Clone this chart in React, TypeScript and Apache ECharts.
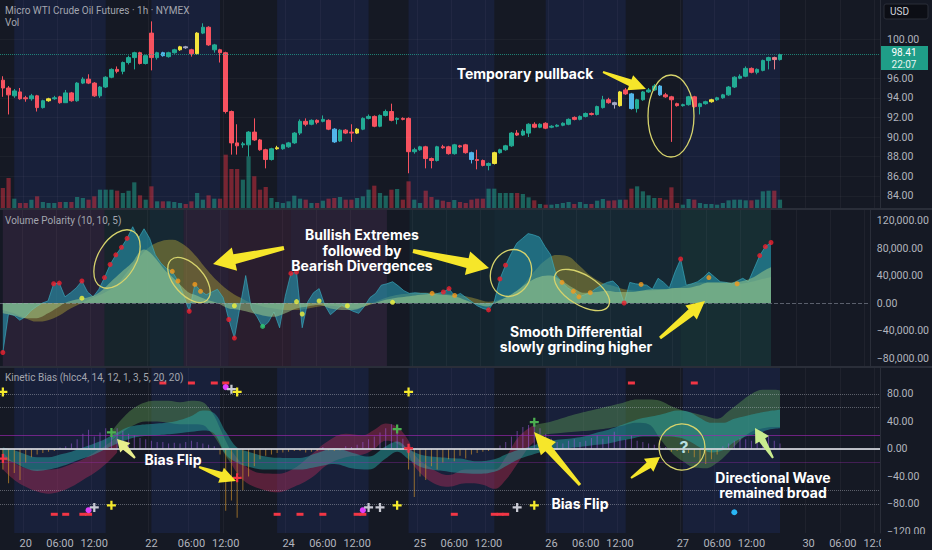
import React, { useEffect, useRef } from "react";
import * as echarts from "echarts";

// ---------- time axis ----------
const sessions: [string, number, number][] = [
  ["19", 19, 22], ["20", 0, 21], ["22", 23, 23], ["23", 0, 22], ["24", 0, 22],
  ["25", 0, 22], ["26", 0, 22], ["27", 0, 20], ["29", 23, 23], ["30", 0, 12],
];
const shownDays = ["20", "22", "24", "25", "26", "27", "30"];
const shownHours = ["06:00", "12:00"];

// ---------- price (open, close, low, high) ----------
const ohlc: number[][] = [
  [95.8, 95.0, 94.1, 96.2], [95.0, 94.3, 92.3, 95.2], [94.2, 94.7, 94.0, 94.9], [94.6, 93.9, 93.8, 95.0],
  [94.0, 93.9, 93.6, 94.2], [93.9, 94.2, 93.7, 94.4], [94.2, 93.0, 92.6, 94.3], [93.0, 93.7, 92.9, 93.8],
  [93.7, 93.9, 93.6, 94.0], [93.9, 94.0, 93.8, 94.2], [94.1, 93.5, 93.4, 94.2], [93.5, 94.5, 93.5, 94.8],
  [94.5, 93.7, 93.6, 94.6], [93.7, 95.5, 93.6, 95.6], [95.5, 95.9, 95.4, 96.1], [95.9, 95.5, 95.4, 96.4],
  [95.5, 94.2, 94.1, 95.6], [94.2, 95.1, 94.0, 95.2], [95.1, 96.1, 95.0, 96.2], [96.1, 96.9, 96.0, 97.0],
  [96.9, 96.7, 96.5, 97.2], [96.7, 97.6, 96.4, 97.7], [97.6, 98.1, 97.4, 98.3], [98.1, 98.6, 96.9, 98.7],
  [98.6, 97.5, 97.4, 98.7], [97.5, 98.3, 97.4, 98.4], [100.6, 98.1, 96.8, 101.8], [98.1, 98.6, 97.9, 98.7],
  [98.6, 98.3, 98.2, 98.7], [98.2, 98.6, 98.1, 98.7], [98.6, 98.9, 98.5, 99.0], [98.9, 99.2, 98.8, 99.3],
  [99.2, 99.1, 99.0, 99.3], [98.9, 98.5, 98.2, 99.0], [98.5, 100.6, 98.4, 100.7], [100.6, 101.2, 100.5, 101.6],
  [101.2, 99.4, 99.3, 101.3], [98.9, 99.4, 98.6, 99.5], [98.9, 98.6, 97.6, 99.0], [98.6, 92.6, 92.4, 98.7],
  [92.6, 89.4, 88.2, 92.7], [89.4, 89.1, 88.2, 91.3], [89.2, 89.3, 88.9, 89.5], [89.2, 90.5, 88.0, 90.6],
  [90.5, 89.7, 89.6, 91.9], [89.7, 88.7, 88.6, 89.8], [88.7, 87.7, 86.8, 88.8], [87.7, 88.8, 87.6, 88.9],
  [88.8, 88.9, 88.7, 89.1], [88.8, 89.2, 88.7, 89.3], [89.0, 89.4, 88.9, 89.5], [89.4, 90.4, 89.3, 90.5],
  [90.4, 91.6, 90.2, 91.8], [91.6, 91.3, 91.1, 91.9], [91.3, 91.7, 91.2, 91.8], [91.7, 91.5, 91.3, 91.8],
  [91.6, 91.8, 91.5, 92.2], [91.7, 90.8, 90.7, 91.8], [90.8, 89.5, 89.4, 90.9], [89.6, 90.7, 89.5, 90.8],
  [90.7, 90.4, 90.3, 90.8], [90.5, 90.4, 89.5, 91.3], [90.4, 90.8, 90.3, 90.9], [90.8, 91.9, 90.7, 92.0],
  [91.9, 92.1, 91.8, 92.3], [92.1, 91.1, 91.0, 92.2], [91.1, 92.2, 91.0, 92.3], [92.2, 92.6, 92.1, 92.8],
  [92.6, 91.7, 91.6, 93.4], [91.8, 91.9, 91.3, 92.0], [91.9, 91.8, 91.7, 92.0], [91.9, 88.5, 86.3, 92.0],
  [88.5, 88.7, 88.3, 88.9], [88.7, 89.0, 88.6, 89.1], [89.0, 87.8, 86.8, 89.1], [87.8, 87.6, 86.8, 87.9],
  [87.6, 89.0, 87.5, 89.1], [89.0, 88.9, 88.8, 89.2], [89.0, 88.3, 88.2, 89.1], [88.3, 89.2, 88.2, 89.3],
  [89.1, 89.0, 88.9, 89.2], [89.2, 88.4, 88.3, 89.3], [88.4, 87.7, 87.3, 88.5], [87.7, 87.6, 86.7, 88.7],
  [87.6, 87.1, 87.0, 87.7], [87.1, 87.3, 86.6, 87.4], [87.3, 88.4, 87.2, 88.5], [88.4, 88.7, 88.3, 88.8],
  [88.7, 89.1, 88.6, 89.2], [89.1, 90.4, 89.0, 90.5], [90.4, 90.2, 90.1, 90.7], [90.2, 90.6, 90.1, 90.8],
  [90.4, 91.3, 90.0, 91.4], [91.3, 91.0, 90.9, 91.5], [91.0, 91.3, 90.9, 91.4], [91.4, 90.9, 90.8, 91.5],
  [91.0, 91.1, 90.9, 91.2], [91.1, 91.2, 91.0, 91.3], [91.2, 91.4, 91.1, 91.5], [91.3, 91.8, 91.2, 91.9],
  [92.0, 91.8, 91.7, 92.1], [91.8, 92.1, 91.7, 92.2], [92.1, 92.4, 92.0, 92.5], [92.4, 92.3, 92.2, 92.5],
  [92.3, 93.1, 92.2, 93.2], [93.0, 93.8, 92.9, 94.2], [93.8, 93.5, 93.4, 94.0], [93.5, 93.3, 92.9, 93.6],
  [93.2, 94.6, 93.1, 94.7], [94.8, 94.4, 94.3, 95.0], [94.4, 92.9, 92.8, 94.5], [92.9, 93.8, 92.5, 93.9],
  [93.8, 94.6, 93.7, 94.7], [94.6, 94.8, 94.5, 95.0], [94.8, 95.2, 94.7, 95.4], [95.2, 94.3, 94.2, 95.3],
  [94.3, 94.1, 94.0, 94.5], [94.1, 93.8, 89.5, 94.2], [93.4, 93.2, 93.1, 93.5], [93.2, 93.3, 93.1, 93.4],
  [93.3, 94.1, 93.2, 94.2], [94.1, 93.1, 93.0, 94.2], [93.1, 93.4, 92.3, 93.5], [93.4, 93.6, 93.3, 93.7],
  [93.6, 93.8, 93.5, 93.9], [93.8, 94.0, 93.7, 94.1], [94.0, 94.3, 93.9, 94.4], [94.3, 95.1, 94.2, 95.2],
  [95.1, 96.1, 95.0, 96.2], [96.0, 96.2, 95.9, 96.4], [96.2, 97.0, 96.1, 97.2], [97.0, 96.6, 96.5, 97.1],
  [96.6, 96.9, 96.4, 97.0], [96.8, 97.8, 96.7, 97.9], [97.8, 98.1, 96.9, 98.2], [98.1, 97.9, 96.9, 98.2],
  [97.9, 98.41, 97.8, 98.5],
];
const yellowBars = [8, 31, 34, 48, 62, 86, 108, 124];
const blueBars = [28, 58, 82, 110, 115];
const greyBars = [32, 107];
const pinkBars = [135];
const lastPrice = 98.41;

const volumes = [
  6000, 9000, 2800, 1500, 1500, 2500, 3500, 1800, 1500, 1500, 1800, 1800, 1800, 3300, 3000, 2500, 3500, 5500, 5500, 5500,
  5200, 4500, 5200, 7700, 3800, 2500, 6500, 2000, 2000, 2000, 1800, 1500, 1200, 2000, 4500, 2500, 3800, 2800, 2800, 16000,
  11700, 11700, 8500, 15500, 9500, 5500, 6300, 3000, 1800, 1500, 2000, 3700, 2800, 2500, 1500, 1500, 2200, 2800, 3000, 3300,
  2500, 2500, 3000, 3500, 5500, 6700, 4500, 3700, 5500, 5700, 2500, 8000, 2500, 1500, 5200, 3300, 2500, 2200, 1800, 2400,
  1800, 1500, 2500, 2800, 2800, 5800, 5800, 4500, 4500, 4500, 4500, 4200, 3200, 2300, 1200, 1000, 1000, 1200, 1500, 1800,
  1200, 1800, 1200, 1200, 2200, 2700, 2200, 2300, 2500, 2500, 5800, 6500, 5000, 3800, 3000, 3000, 2500, 6200, 1500, 1000,
  2700, 2500, 1500, 1200, 1200, 1000, 1500, 2300, 2500, 2500, 2300, 2300, 2500, 5000, 5200, 5200, 2500,
];

// ---------- Volume Polarity (thousands) ----------
const polarityRaw = [
  [0, -72], [1, -16], [2, -18], [3, -25], [4, -20], [5, -11], [6, -5], [7, 0], [8, 3], [9, 28], [10, 29], [11, 9],
  [12, 15], [13, 22], [14, 32], [15, 16], [16, 9], [17, 20], [18, 37], [19, 56], [20, 70], [21, 81], [22, 94], [23, 111],
  [24, 94], [25, 108], [26, 94], [27, 70], [28, 58], [29, 50], [30, 46], [31, 32], [32, 12], [33, -12], [34, 27], [35, 18],
  [36, 12], [37, 16], [38, 20], [39, 8], [40, -24], [41, -51], [42, -5], [43, 40], [44, -8], [45, -20], [46, -35], [47, -28],
  [48, -13], [49, -36], [50, 10], [51, 43], [52, 45], [53, -36], [54, 2], [55, 15], [56, 21], [57, -3], [58, -17], [59, -10],
  [60, -3], [61, -8], [62, -12], [63, -15], [64, -5], [65, 8], [66, 14], [67, 26], [68, 28], [69, 31], [70, 25], [71, 18],
  [72, 14], [73, 15], [74, 14], [75, 14], [76, 12], [77, 14], [78, 16], [79, 21], [80, 10], [81, 14], [82, 8], [83, 2],
  [84, -4], [85, -8], [86, -10], [87, 2], [88, 35], [89, 55], [90, 72], [91, 87], [92, 94], [93, 101], [94, 99], [95, 96],
  [96, 82], [97, 70], [98, 40], [99, 30], [100, 22], [101, 17], [102, 9], [103, 12], [104, 15], [105, 21], [106, 26], [107, 30],
  [108, 32], [109, 24], [110, 0], [111, 30], [112, 28], [113, 27], [114, 26], [115, 20], [116, 36], [117, 30], [118, 22], [119, 45],
  [120, 64], [121, 26], [122, 28], [123, 31], [124, 37], [125, 45], [126, 38], [127, 31], [128, 30], [129, 28], [130, 32], [131, 36],
  [132, 31], [133, 50], [134, 69], [135, 82], [136, 88],
];
const polaritySmooth = [
  [0, -15], [2, -18], [4, -22], [6, -22], [8, -15], [9, -10], [10, -5], [11, 0], [13, 5], [15, 8], [17, 15], [19, 30],
  [21, 45], [23, 60], [24, 72], [25, 78], [26, 74], [27, 65], [28, 55], [29, 45], [30, 38], [31, 30], [32, 22], [33, 15],
  [34, 12], [36, 5], [38, 0], [40, -8], [42, -10], [44, -14], [46, -18], [48, -20], [50, -15], [52, -8], [54, -5], [56, -3],
  [58, -8], [60, -10], [62, -10], [64, -5], [66, 0], [68, 5], [70, 8], [72, 10], [74, 12], [76, 13], [78, 12], [80, 10],
  [82, 4], [84, -2], [86, -5], [87, 0], [89, 8], [91, 18], [93, 30], [95, 38], [97, 40], [99, 32], [101, 22], [103, 15],
  [105, 16], [107, 18], [109, 16], [111, 16], [113, 18], [115, 20], [117, 20], [119, 22], [121, 22], [123, 25], [125, 30],
  [127, 30], [129, 30], [131, 32], [133, 38], [135, 48], [136, 52],
];
const polaritySignal = [
  [0, -10], [2, -15], [4, -22], [6, -27], [8, -25], [10, -18], [12, -8], [14, 0], [16, 8], [18, 15], [20, 25], [22, 45],
  [24, 65], [26, 82], [28, 90], [30, 92], [32, 85], [34, 70], [36, 50], [38, 32], [40, 18], [42, 8], [44, 0], [46, -5],
  [48, -8], [50, -10], [52, -10], [54, -8], [56, -5], [58, -4], [60, -6], [62, -8], [64, -5], [66, 2], [68, 8], [70, 12],
  [72, 14], [74, 15], [76, 15], [78, 14], [80, 12], [82, 10], [84, 6], [86, 2], [88, 5], [90, 12], [92, 25], [94, 45],
  [96, 62], [98, 70], [100, 68], [102, 55], [104, 40], [106, 30], [108, 25], [110, 20], [112, 18], [114, 18], [116, 19],
  [118, 21], [120, 23], [122, 28], [124, 30], [126, 30], [128, 29], [130, 28], [132, 30], [134, 34], [136, 38],
];
const extremeDots = [
  [0, -72], [9, 28], [10, 29], [14, 32], [18, 37], [19, 56], [20, 70], [21, 81], [22, 94], [33, -12], [40, -24], [41, -51],
  [51, 43], [52, 45], [78, 16], [79, 21], [86, -10], [88, 35], [89, 55], [110, 0], [120, 64], [134, 69], [135, 82], [136, 88],
];
const divergenceDots = [
  [30, 46], [31, 32], [34, 27], [35, 17], [76, 14], [80, 11], [99, 30], [101, 17], [102, 9], [104, 15], [113, 27], [125, 37], [130, 28],
];
const crossDots = [[14, 7], [41, -4], [52, 2], [53, -16], [56, 3], [61, -4], [69, 1]];
const bullDots = [[46, -34]];

// ---------- Kinetic Bias ----------
const biasHistogram = [
  -30, -50, -35, -45, -20, -12, -8, -6, -4, -3, 2, 4, 8, 14, 22, 28, 18, 24, 30, 22,
  30, 26, 22, 20, 16, 14, 12, 10, 10, 8, 9, 8, 10, 12, 10, 8, 6, 4, -8, -90,
  -75, -100, -60, -40, -25, -15, -10, -8, -6, -5, -4, -3, -3, -5, -4, -3, 3, -2, -3, -2,
  4, 3, 6, 10, 14, 18, 24, 30, 36, 28, 15, -30, -70, -40, -45, -25, -30, -20, -15, -18,
  -10, -14, -8, -6, -4, -3, -2, 5, 10, 18, 26, 32, 35, 38, 30, 22, 15, 10, 8, 12,
  14, 10, 12, 16, 20, 15, 18, 25, 18, 14, 20, 12, 10, 8, 6, 4, 3, -4, -3, -2,
  -6, -12, -18, -22, -15, -8, 4, 8, 12, 16, 14, 12, 10, 14, 18, 12, 8,
];
// [bar, lower, upper]
const fastWave = [
  [0, -15, 2], [2, -20, -2], [4, -28, -8], [6, -32, -12], [8, -30, -12], [10, -26, -8], [12, -20, -4], [14, -14, 2],
  [16, -8, 8], [18, 0, 15], [20, 8, 24], [22, 14, 32], [24, 18, 35], [27, 20, 37], [30, 22, 40], [33, 25, 48], [35, 27, 56],
  [37, 22, 52], [39, -8, 25], [41, -20, 2], [43, -26, -4], [46, -30, -11], [49, -30, -13], [52, -30, -13], [55, -26, -6],
  [58, -22, 1], [61, -28, -5], [64, -30, -11], [67, -14, 4], [69, -4, 11], [71, -15, 0], [73, -26, -8], [75, -30, -11],
  [78, -33, -13], [80, -35, -14], [83, -36, -18], [86, -33, -15], [88, -25, -8], [90, -16, -2], [92, -10, 3], [94, -5, 8],
  [96, -2, 12], [98, 0, 14], [100, 2, 16], [102, 4, 19], [104, 6, 24], [106, 8, 28], [108, 12, 34], [110, 15, 40],
  [112, 18, 45], [114, 18, 48], [116, 18, 52], [118, 17, 56], [120, 12, 54], [122, 2, 45], [124, -5, 38], [126, -2, 38],
  [128, 10, 44], [130, 18, 48], [132, 22, 52], [134, 28, 55], [136, 30, 57],
];
const bearWaveA = [
  [0, -30, -5], [2, -45, -20], [4, -55, -28], [6, -62, -30], [8, -65, -30], [10, -62, -28], [12, -55, -22],
  [14, -45, -15], [16, -35, -5], [18, -22, 5], [20, -5, 18],
];
const bullWaveA = [
  [19, 12, 25], [21, 25, 45], [23, 35, 60], [25, 40, 68], [27, 40, 70], [29, 38, 70], [31, 36, 68], [33, 36, 70],
  [35, 35, 68], [36, 28, 60], [37, 18, 48], [38, 5, 30], [39, -10, 12], [40, -22, -5],
];
const bearWaveB = [
  [40, -22, -2], [42, -45, -22], [45, -58, -35], [48, -63, -36], [51, -55, -28], [54, -42, -8], [57, -22, 12],
  [60, -12, 22], [63, -8, 20], [65, 0, 28], [67, 12, 37], [69, 8, 32], [71, -8, 12], [72, -25, -8], [75, -48, -28],
  [78, -55, -38], [81, -50, -30], [84, -52, -30], [86, -58, -30], [88, -45, -12], [90, -22, 15], [92, 2, 30], [93, 10, 35],
];
const bullWaveB = [
  [93, 18, 35], [96, 22, 40], [100, 25, 50], [104, 28, 58], [108, 33, 66], [111, 38, 72], [113, 36, 72], [115, 15, 70],
  [117, -5, 62], [119, -18, 56], [121, -27, 52], [123, -28, 48], [125, -20, 44], [127, -5, 55], [129, 12, 68],
  [131, 25, 80], [133, 30, 86], [135, 32, 86], [136, 32, 85],
];
const topDashes = [[28, 96], [33, 96], [37, 96], [39, 96], [110, 96], [121, 96]];
const bottomDashes = [[9, -95], [11, -95], [14, -95], [15, -95], [48, -95], [52, -95], [56, -95], [62, -95], [63, -95], [79, -95], [86, -95], [87, -95], [88, -95]];
const magentaDots = [[39, 90], [15, -89], [63, -89]];
const whitePlus = [[40, 87], [16, -85], [64, -85], [66, -85], [90, -85]];
const yellowPlus = [[0, 83], [41, 83], [71, 83], [19, -82], [69, -82], [93, -82]];
const greenPlus = [[19, 24], [69, 29], [93, 39]];
const redPlus = [[0, -14], [41, -42], [71, 1]];
const cyanDots = [[128, -92]];

// ---------- backgrounds ----------
const sessionBands = [[2, 18], [26, 38], [48, 64], [71, 86], [95, 109], [119, 136]];
const polarityBands: [number, number, string][] = [
  [0, 18, "purple"], [18, 26, "darkGreen"], [26, 32, "teal"], [32, 40, "purple"], [40, 51, "red"],
  [51, 68, "purple"], [72, 87, "darkTeal"], [87, 120, "teal"], [120, 136, "green"],
];
const regimeColors: Record<string, string> = {
  purple: "rgba(140,80,140,0.16)", red: "rgba(170,60,110,0.15)", darkGreen: "rgba(50,130,100,0.11)",
  teal: "rgba(30,150,155,0.13)", darkTeal: "rgba(30,140,140,0.11)", green: "rgba(40,165,140,0.15)",
};

const priceTicks = [84, 86, 88, 90, 92, 94, 96, 100];
const polarityTicks = [-80000, -40000, 0, 40000, 80000, 120000];
const biasTicks = [-120, -80, -40, 0, 40, 80];

// ---------- helpers ----------
const categories: string[] = [];
const tickText: string[] = [];
sessions.forEach(([d, a, b]) => {
  for (let h = a; h <= b; h++) {
    const hh = String(h).padStart(2, "0") + ":00";
    categories.push(d + " " + hh);
    if (h === a && shownDays.includes(d)) tickText.push(d);
    else if (shownHours.includes(hh)) tickText.push(hh);
    else tickText.push("");
  }
});

const UP = "#22ab94";
const DOWN = "#f7525f";
const BG = "#151924";
const AXIS_TXT = "#b2b5be";
const minus = (s: string) => s.replace("-", "\u2212");

function arrow(x1: number, y1: number, x2: number, y2: number, tail: number, base: number, head: number, headLen: number, fill: string) {
  const dx = x2 - x1, dy = y2 - y1, L = Math.hypot(dx, dy);
  const ux = dx / L, uy = dy / L, nx = -uy, ny = ux;
  const bx = x2 - ux * headLen, by = y2 - uy * headLen;
  return {
    type: "polygon", z: 100, silent: true,
    shape: {
      points: [
        [x1 + nx * tail / 2, y1 + ny * tail / 2], [bx + nx * base / 2, by + ny * base / 2],
        [bx + nx * head / 2, by + ny * head / 2], [x2, y2], [bx - nx * head / 2, by - ny * head / 2],
        [bx - nx * base / 2, by - ny * base / 2], [x1 - nx * tail / 2, y1 - ny * tail / 2],
      ],
    },
    style: { fill },
  };
}
function ell(cx: number, cy: number, rx: number, ry: number, rotation: number, stroke = "#d6d36c") {
  return { type: "ellipse", z: 100, silent: true, x: cx, y: cy, rotation, shape: { cx: 0, cy: 0, rx, ry }, style: { fill: "none", stroke, lineWidth: 1.3 } };
}
function label(x: number, y: number, text: string, size = 14, fill = "#ffffff") {
  return {
    type: "text", z: 100, silent: true, x, y,
    style: { text, fill, font: `bold ${size}px Inter, "Open Sans", sans-serif`, textAlign: "center", textVerticalAlign: "middle", lineHeight: size + 1.5 },
  };
}
function small(x: number, y: number, text: string) {
  return { type: "text", z: 100, silent: true, x, y, style: { text, fill: "#a3a6af", font: `10px Roboto, sans-serif`, textVerticalAlign: "middle" } };
}
function bandSeries(name: string, rows: number[][], color: string, z: number) {
  const common = { type: "line", xAxisIndex: 2, yAxisIndex: 3, stack: name, stackStrategy: "all", symbol: "none", smooth: 0.4, silent: true, z };
  return [
    { ...common, name: name + "-base", data: rows.map((r) => [r[0], r[1]]), lineStyle: { opacity: 0 } },
    { ...common, name: name + "-band", data: rows.map((r) => [r[0], r[2] - r[1]]), lineStyle: { width: 0, opacity: 0 }, areaStyle: { color, opacity: 1 } },
  ];
}
function markers(data: number[][], symbol: any, size: any, color: string) {
  return { type: "scatter", xAxisIndex: 2, yAxisIndex: 3, data, symbol, symbolSize: size, itemStyle: { color, opacity: 1 }, z: 8, silent: true };
}
const PLUS = "path://M3,0H5V3H8V5H5V8H3V5H0V3H3Z";

function buildOption() {
  const candleData = ohlc.map((c, i) => {
    let col: string | null = null;
    if (yellowBars.includes(i)) col = "#f2e43c";
    else if (blueBars.includes(i)) col = "#52b6ea";
    else if (greyBars.includes(i)) col = "#a6a9c8";
    else if (pinkBars.includes(i)) col = "#e9808c";
    const item: any = { value: c };
    if (col) item.itemStyle = { color: col, color0: col, borderColor: col, borderColor0: col };
    return item;
  });
  const volData = volumes.map((v, i) => ({
    value: v,
    itemStyle: { color: ohlc[i][1] >= ohlc[i][0] ? "rgba(34,171,148,0.5)" : "rgba(242,54,69,0.45)" },
  }));
  const sessionArea = sessionBands.map(([a, b]) => [{ xAxis: categories[a], itemStyle: { color: "rgba(45,75,185,0.15)" } }, { xAxis: categories[b] }]);
  const polarityArea = polarityBands.map(([a, b, r]) => [{ xAxis: categories[a], itemStyle: { color: regimeColors[r] } }, { xAxis: categories[b] }]);

  const xBase = (gridIndex: number, show: boolean) => ({
    type: "category", gridIndex, data: categories, boundaryGap: true,
    axisLine: { show: show, lineStyle: { color: "#2a2e39" } }, axisTick: { show: false },
    axisLabel: {
      show, color: AXIS_TXT, fontSize: 11, fontFamily: "Roboto, sans-serif", margin: 5,
      interval: (i: number) => tickText[i] !== "", formatter: (_v: string, i: number) => tickText[i],
    },
    splitLine: { show: true, interval: (i: number) => tickText[i] !== "", lineStyle: { color: "rgba(255,255,255,0.045)" } },
  });
  const yLabel = { color: AXIS_TXT, fontSize: 10.5, fontFamily: "Roboto, sans-serif", margin: 7 };

  return {
    animation: false,
    backgroundColor: BG,
    grid: [
      { left: 0, right: 52, top: 0, height: 208 },
      { left: 0, right: 52, top: 210, height: 156 },
      { left: 0, right: 52, top: 368, height: 165 },
    ],
    xAxis: [xBase(0, false), xBase(1, false), xBase(2, true)],
    yAxis: [
      {
        type: "value", gridIndex: 0, position: "right", min: 82.755, max: 103.98, scale: true,
        axisLine: { show: true, lineStyle: { color: "#2a2e39" } }, axisTick: { show: false }, splitLine: { show: false },
        axisLabel: { ...yLabel, customValues: priceTicks, formatter: (v: number) => v.toFixed(2) },
      },
      { type: "value", gridIndex: 0, min: 0, max: 62400, show: false, splitLine: { show: false } },
      {
        type: "value", gridIndex: 1, position: "right", min: -91600, max: 135300,
        axisLine: { show: true, lineStyle: { color: "#2a2e39" } }, axisTick: { show: false }, splitLine: { show: false },
        axisLabel: {
          ...yLabel, customValues: polarityTicks,
          formatter: (v: number) => minus(v.toLocaleString("en-US", { minimumFractionDigits: 2, maximumFractionDigits: 2 })),
        },
      },
      {
        type: "value", gridIndex: 2, position: "right", min: -122.2, max: 117.8,
        axisLine: { show: true, lineStyle: { color: "#2a2e39" } }, axisTick: { show: false }, splitLine: { show: false },
        axisLabel: { ...yLabel, customValues: biasTicks, formatter: (v: number) => minus(v.toFixed(2)) },
      },
    ],
    series: [
      // backgrounds
      { type: "line", xAxisIndex: 0, yAxisIndex: 0, data: [], silent: true, z: 0, markArea: { silent: true, z: 0, data: sessionArea } },
      { type: "line", xAxisIndex: 1, yAxisIndex: 2, data: [], silent: true, z: 0, markArea: { silent: true, z: 0, data: polarityArea } },
      { type: "line", xAxisIndex: 2, yAxisIndex: 3, data: [], silent: true, z: 0, markArea: { silent: true, z: 0, data: sessionArea } },
      // price pane
      { type: "bar", xAxisIndex: 0, yAxisIndex: 1, data: volData, barWidth: 4.2, silent: true, z: 2 },
      {
        type: "candlestick", xAxisIndex: 0, yAxisIndex: 0, data: candleData, barWidth: 4, silent: true, z: 3,
        itemStyle: { color: UP, color0: DOWN, borderColor: UP, borderColor0: DOWN, borderWidth: 1 },
        markLine: {
          silent: true, symbol: ["none", "none"], label: { show: false },
          data: [
            { yAxis: lastPrice, lineStyle: { type: "dotted", color: "rgba(34,171,148,0.7)", width: 1 } },
            ...priceTicks.map((p) => ({ yAxis: p, lineStyle: { type: "solid", color: "rgba(255,255,255,0.035)", width: 1 } })),
          ],
        },
      },
      // polarity pane
      {
        type: "line", xAxisIndex: 1, yAxisIndex: 2, data: polaritySignal.map(([i, v]) => [i, v * 1000]), symbol: "none", smooth: 0.4, z: 2, silent: true,
        lineStyle: { width: 0, opacity: 0 }, areaStyle: { color: "rgba(150,140,55,0.55)", opacity: 1 },
        markLine: { silent: true, symbol: ["none", "none"], label: { show: false }, data: [{ yAxis: 0, lineStyle: { type: "dashed", color: "rgba(160,165,180,0.5)", width: 1 } }] },
      },
      {
        type: "line", xAxisIndex: 1, yAxisIndex: 2, data: polarityRaw.map(([i, v]) => [i, v * 1000]), symbol: "none", z: 3, silent: true,
        lineStyle: { width: 0.8, color: "rgba(60,175,195,0.8)" }, areaStyle: { color: "rgba(38,150,175,0.62)", opacity: 1 },
      },
      {
        type: "line", xAxisIndex: 1, yAxisIndex: 2, data: polaritySmooth.map(([i, v]) => [i, v * 1000]), symbol: "none", smooth: 0.4, z: 4, silent: true,
        lineStyle: { width: 0, opacity: 0 }, areaStyle: { color: "rgba(165,210,140,0.5)", opacity: 1 },
      },
      { type: "scatter", xAxisIndex: 1, yAxisIndex: 2, data: extremeDots.map(([i, v]) => [i, v * 1000]), symbolSize: 5, itemStyle: { color: "#f0202e" }, z: 8, silent: true },
      { type: "scatter", xAxisIndex: 1, yAxisIndex: 2, data: divergenceDots.map(([i, v]) => [i, v * 1000]), symbolSize: 5, itemStyle: { color: "#f59a1b" }, z: 8, silent: true },
      { type: "scatter", xAxisIndex: 1, yAxisIndex: 2, data: crossDots.map(([i, v]) => [i, v * 1000]), symbolSize: 5, itemStyle: { color: "#f2f23a" }, z: 8, silent: true },
      { type: "scatter", xAxisIndex: 1, yAxisIndex: 2, data: bullDots.map(([i, v]) => [i, v * 1000]), symbolSize: 5, itemStyle: { color: "#2ecc71" }, z: 8, silent: true },
      // bias pane
      {
        type: "bar", xAxisIndex: 2, yAxisIndex: 3, data: biasHistogram, barWidth: 1, silent: true, z: 4,
        itemStyle: { color: (p: any) => (p.value >= 0 ? "rgba(160,95,225,0.55)" : "rgba(215,150,45,0.65)") },
        markLine: {
          silent: true, symbol: ["none", "none"], label: { show: false }, z: 6,
          data: [
            ...[80, 60, -60, -80].map((v) => ({ yAxis: v, lineStyle: { type: "dotted", color: "rgba(200,202,212,0.4)", width: 1 } })),
            { yAxis: 20, lineStyle: { type: "solid", color: "rgba(156,39,176,0.65)", width: 1 } },
            { yAxis: -20, lineStyle: { type: "solid", color: "rgba(156,39,176,0.35)", width: 1 } },
            { yAxis: 0, lineStyle: { type: "solid", color: "rgba(215,217,225,0.85)", width: 2 } },
          ],
        },
      },
      ...bandSeries("bearA", bearWaveA, "rgba(180,45,90,0.42)", 2),
      ...bandSeries("bullA", bullWaveA, "rgba(95,160,85,0.42)", 2),
      ...bandSeries("bearB", bearWaveB, "rgba(180,45,90,0.42)", 2),
      ...bandSeries("bullB", bullWaveB, "rgba(95,160,85,0.42)", 2),
      ...bandSeries("fast", fastWave, "rgba(40,170,170,0.48)", 3),
      markers(topDashes, "rect", [7, 3], "#f23645"),
      markers(bottomDashes, "rect", [7, 3], "#f23645"),
      markers(magentaDots, "circle", 6, "#e040fb"),
      markers(whitePlus, PLUS, 9, "#c9cad3"),
      markers(yellowPlus, PLUS, 9, "#f5ea2c"),
      markers(greenPlus, PLUS, 9, "#4caf50"),
      markers(redPlus, PLUS, 9, "#f23645"),
      markers(cyanDots, "circle", 6, "#29b6f6"),
    ],
    graphic: [
      { type: "line", z: 90, silent: true, shape: { x1: 0, y1: 209, x2: 932, y2: 209 }, style: { stroke: "#2a2e39", lineWidth: 2 } },
      { type: "line", z: 90, silent: true, shape: { x1: 0, y1: 367, x2: 932, y2: 367 }, style: { stroke: "#2a2e39", lineWidth: 2 } },
      { type: "rect", z: 95, silent: true, shape: { x: 881, y: 534, width: 51, height: 16 }, style: { fill: BG } },
      small(5, 10, "Micro WTI Crude Oil Futures \u00b7 1h \u00b7 NYMEX"),
      small(5, 22, "Vol"),
      small(5, 220, "Volume Polarity (10, 10, 5)"),
      small(5, 377, "Kinetic Bias (hlcc4, 14, 12, 1, 3, 5, 20, 20)"),
      { type: "rect", z: 100, silent: true, shape: { x: 884, y: 4, width: 44, height: 15, r: 2 }, style: { fill: "#0c0e15", stroke: "#2a2e39", lineWidth: 1 } },
      { type: "text", z: 101, silent: true, x: 890, y: 11.5, style: { text: "USD", fill: "#d1d4dc", font: "10px Roboto, sans-serif", textVerticalAlign: "middle" } },
      { type: "rect", z: 100, silent: true, shape: { x: 881, y: 46, width: 47, height: 24 }, style: { fill: "#1f9e88" } },
      { type: "text", z: 101, silent: true, x: 904, y: 52, style: { text: "98.41", fill: "#ffffff", font: "10px Roboto, sans-serif", textAlign: "center", textVerticalAlign: "middle" } },
      { type: "text", z: 101, silent: true, x: 904, y: 64, style: { text: "22:07", fill: "#e8f5f2", font: "10px Roboto, sans-serif", textAlign: "center", textVerticalAlign: "middle" } },
      // annotations
      label(525, 73, "Temporary pullback"),
      arrow(603, 72, 646, 89, 2, 7, 16, 17, "#f6e62a"),
      ell(671, 116, 23, 41, 0),
      label(362, 250, "Bullish Extremes\nfollowed by\nBearish Divergences"),
      arrow(284, 248, 213, 264, 4, 10, 24, 22, "#f6e62a"),
      arrow(413, 251, 489, 268, 4, 10, 24, 22, "#f6e62a"),
      ell(117, 259, 19, 32, -0.54),
      ell(189, 280, 27, 15, -0.84),
      ell(511, 273, 20, 24, -0.4),
      ell(582, 290, 31, 15, -0.55),
      label(576, 339, "Smooth Differential\nslowly grinding higher"),
      arrow(660, 338, 705, 301, 3, 8, 18, 18, "#f6e62a"),
      label(173, 459, "Bias Flip"),
      arrow(135, 458, 117, 439, 2, 6, 14, 12, "#e8ef8c"),
      arrow(199, 467, 236, 481, 2, 7, 16, 16, "#f6e62a"),
      label(580, 503, "Bias Flip"),
      arrow(580, 485, 534, 432, 3, 8, 20, 22, "#f6e62a"),
      { type: "circle", z: 100, silent: true, shape: { cx: 682, cy: 447, r: 23 }, style: { fill: "none", stroke: "#d6d36c", lineWidth: 1.3 } },
      label(684, 447, "?", 16, "#b8dfe0"),
      arrow(631, 478, 660, 457, 2, 7, 16, 14, "#f6e62a"),
      label(773, 485, "Directional Wave\nremained broad"),
      arrow(773, 458, 755, 428, 2, 7, 16, 14, "#c9ec8f"),
    ],
  };
}

export default function App() {
  const ref = useRef<HTMLDivElement>(null);
  useEffect(() => {
    const chart = echarts.init(ref.current as HTMLDivElement, undefined, { renderer: "svg" });
    chart.setOption(buildOption() as any);
    return () => chart.dispose();
  }, []);
  return <div ref={ref} style={{ position: "fixed", left: 0, top: 0, width: 932, height: 550, background: BG }} />;
}
